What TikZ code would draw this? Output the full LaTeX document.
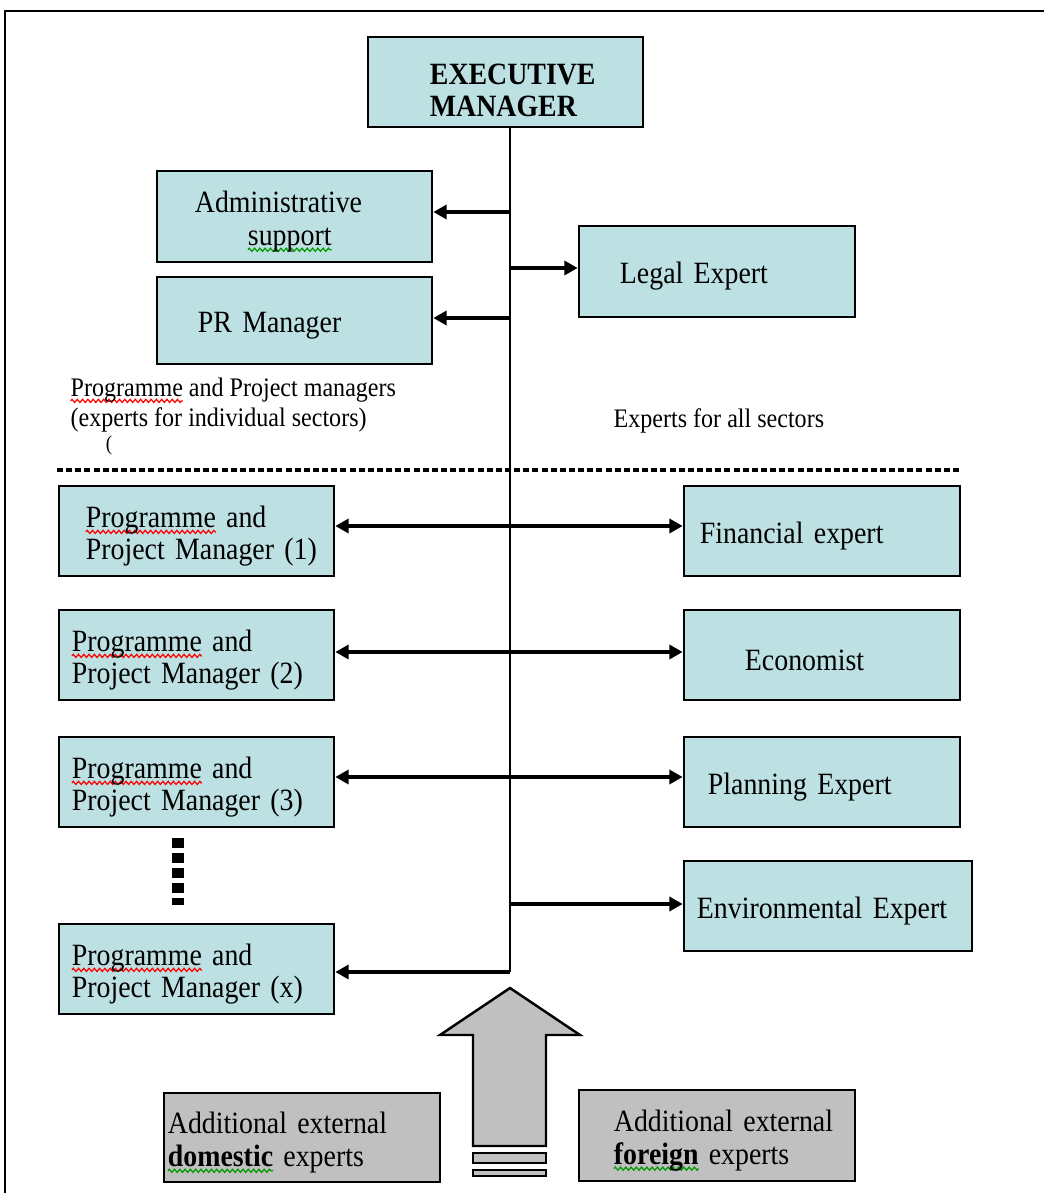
\documentclass[tikz,border=0pt]{standalone}
\usepackage{fontspec}
\setmainfont{Liberation Serif}[FakeStretch=0.9]
\usetikzlibrary{arrows.meta,decorations.pathmorphing}
\definecolor{boxblue}{RGB}{189,224,227}
\definecolor{boxgray}{RGB}{192,192,192}
\newsavebox\wavebox
\newcommand\spellwave[2]{\sbox\wavebox{#2}\tikz[overlay]\draw[#1, line width=0.35pt, decorate,
  decoration={zigzag, amplitude=0.45pt, segment length=1.5pt}] (0pt,-1.3pt) -- (\the\wd\wavebox,-1.3pt);\usebox\wavebox}
\tikzset{
  box/.style={draw, line width=0.7pt, fill=boxblue, align=left, inner ysep=0pt,
    font=\fontsize{8.8}{9.2}\selectfont,
    execute at begin node={\hyphenpenalty=10000\exhyphenpenalty=10000\rule{0pt}{9pt}}},
  extbox/.style={box, fill=boxgray},
  note/.style={inner sep=0pt, align=left, font=\fontsize{7.6}{8.6}\selectfont},
  arr/.style={line width=1pt},
}
\begin{document}
\begin{tikzpicture}[x=0.01cm, y=-0.01cm, >={Triangle[length=3.8pt,width=4pt]}]
\useasboundingbox (0,0) rectangle (1044,1193);
\draw[line width=0.7pt] (1044,11) -- (5,11) -- (5,1193);

\node[box, minimum height=0.9cm, inner xsep=0.62cm, text width=1.51cm] (exec) at (505.5,82)
  {\rule{0pt}{10.5pt}\textbf{EXECUTIVE}\\\textbf{MANAGER}};
\node[box, minimum height=0.91cm, inner xsep=0.38cm, text width=1.99cm] (admin) at (294.5,216.5)
  {Administrative\\\hspace*{0.53cm}\spellwave{green!60!black}{support}};
\node[box, minimum height=0.87cm, inner xsep=0.41cm, text width=1.93cm] (pr) at (294.5,320.5) {PR~Manager};
\node[box, minimum height=0.91cm, inner xsep=0.41cm, text width=1.94cm] (legal) at (717,271.5) {Legal~Expert};

\node[note, anchor=west] (lblleft) at (70,405)
  {\spellwave{red}{Programme} and Project managers\\(experts for individual sectors)};
\node[note, font=\fontsize{6}{6}\selectfont] (stray) at (109,445) {(};
\node[note, anchor=west] (lblright) at (613,421) {Experts for all sectors};

\draw[line width=1.2pt, dash pattern=on 1.7pt off 0.9pt] (57,470) -- (962,470);

\node[box, minimum height=0.9cm, inner xsep=0.27cm, text width=2.21cm] (ppm1) at (196.5,531)
  {\spellwave{red}{Programme}~and\\Project~Manager~(1)};
\foreach \i/\y in {2/655,3/782,x/969}
  \node[box, minimum height=0.9cm, inner xsep=0.13cm, text width=2.49cm] (ppm\i) at (196.5,\y)
    {\spellwave{red}{Programme}~and\\Project~Manager~(\i)};

\node[box, minimum height=0.9cm, inner xsep=0.16cm, text width=2.44cm] (fin) at (822,531) {Financial~expert};
\node[box, minimum height=0.9cm, inner xsep=0.61cm, text width=1.54cm] (econ) at (822,655) {Economist};
\node[box, minimum height=0.9cm, inner xsep=0.24cm, text width=2.28cm] (plan) at (822,782) {Planning~Expert};
\node[box, minimum height=0.9cm, inner xsep=0.13cm, text width=2.62cm] (env) at (828,906) {Environmental~Expert};

\node[extbox, minimum height=0.89cm, inner xsep=0.04cm, text width=2.68cm] (dom) at (302,1137.5)
  {Additional~external\\\spellwave{green!60!black}{\textbf{domestic}}~experts};
\node[extbox, minimum height=0.91cm, inner xsep=0.35cm, text width=2.06cm] (for) at (717,1135.5)
  {Additional~external\\\spellwave{green!60!black}{\textbf{foreign}}~experts};

% trunk and branches
\coordinate (bot) at (510,972);
\coordinate (j1) at (510,212);
\coordinate (j2) at (510,268);
\coordinate (j3) at (510,318);
\coordinate (j4) at (510,904);
\draw[line width=0.7pt] (exec.south -| bot) -- (bot);
\draw[arr, ->] (j1) -- (j1 -| admin.east);
\draw[arr, ->] (j2) -- (j2 -| legal.west);
\draw[arr, ->] (j3) -- (j3 -| pr.east);
\foreach \l/\r/\y in {ppm1/fin/526, ppm2/econ/652, ppm3/plan/777}
  \draw[arr, <->] (\l.east |- 0,\y) -- (\r.west |- 0,\y);
\draw[arr, ->] (j4) -- (j4 -| env.west);
\draw[arr, ->] (bot) -- (bot -| ppmx.east);

\draw[line width=3.4pt, dash pattern=on 2.85pt off 1.42pt] (178,838) -- (178,905);

% big arrow
\draw[line width=0.7pt, fill=boxgray] (510,988) -- (580,1035) -- (546,1035) -- (546,1146)
  -- (473,1146) -- (473,1035) -- (440,1035) -- cycle;
\draw[line width=0.7pt, fill=boxgray] (473,1153) rectangle (546,1163);
\draw[line width=0.7pt, fill=boxgray] (473,1170) rectangle (546,1176);
\end{tikzpicture}
\end{document}
